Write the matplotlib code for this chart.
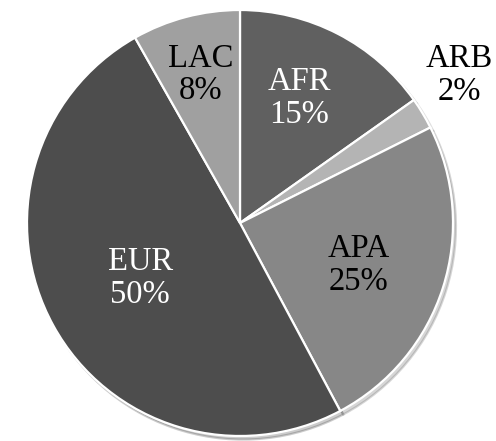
import matplotlib
matplotlib.use("Agg")
import matplotlib.pyplot as plt
import numpy as np

# regions, going clockwise from 12 o'clock
regions = ["AFR", "ARB", "APA", "EUR", "LAC"]
shares = [15.2, 2.4, 24.6, 49.6, 8.2]

WEDGE_COLORS = ["#606060", "#b4b4b4", "#878787", "#4d4d4d", "#a0a0a0"]
TEXT_COLORS = ["white", "black", "black", "white", "black"]
# how far from the centre each label sits (fraction of radius),
# and a small angle nudge in degrees
LABEL_DIST = [0.65, 1.24, 0.59, 0.535, 0.72]
LABEL_NUDGE = [2.0, 3.0, -2.0, 0.0, 0.0]

plt.rcParams['font.family'] = ['Liberation Serif', 'DejaVu Serif']

fig = plt.figure(figsize=(4.96, 4.41), dpi=100)
ax = fig.add_axes([27 / 496, 5 / 441, 426 / 496, 426 / 441])

wedges, _ = ax.pie(shares, colors=WEDGE_COLORS, startangle=90,
                   counterclock=False, radius=1.0,
                   wedgeprops=dict(edgecolor="white", linewidth=1.6),
                   shadow=dict(ox=0.01, oy=-0.012, shade=0.3, alpha=0.25))

# label each wedge with its name and rounded percentage
total = sum(shares)
for i, w in enumerate(wedges):
    mid = np.deg2rad((w.theta1 + w.theta2) / 2 + LABEL_NUDGE[i])
    d = LABEL_DIST[i]
    pct = 100 * shares[i] / total
    ax.text(d * np.cos(mid), d * np.sin(mid),
            "%s\n%.0f%%" % (regions[i], pct),
            ha="center", va="center", fontsize=23.5,
            color=TEXT_COLORS[i], linespacing=1.1)

ax.set_xlim(-1, 1)
ax.set_ylim(-1, 1)
ax.set_aspect("equal")
ax.axis("off")

plt.savefig("out.png", dpi=100)
